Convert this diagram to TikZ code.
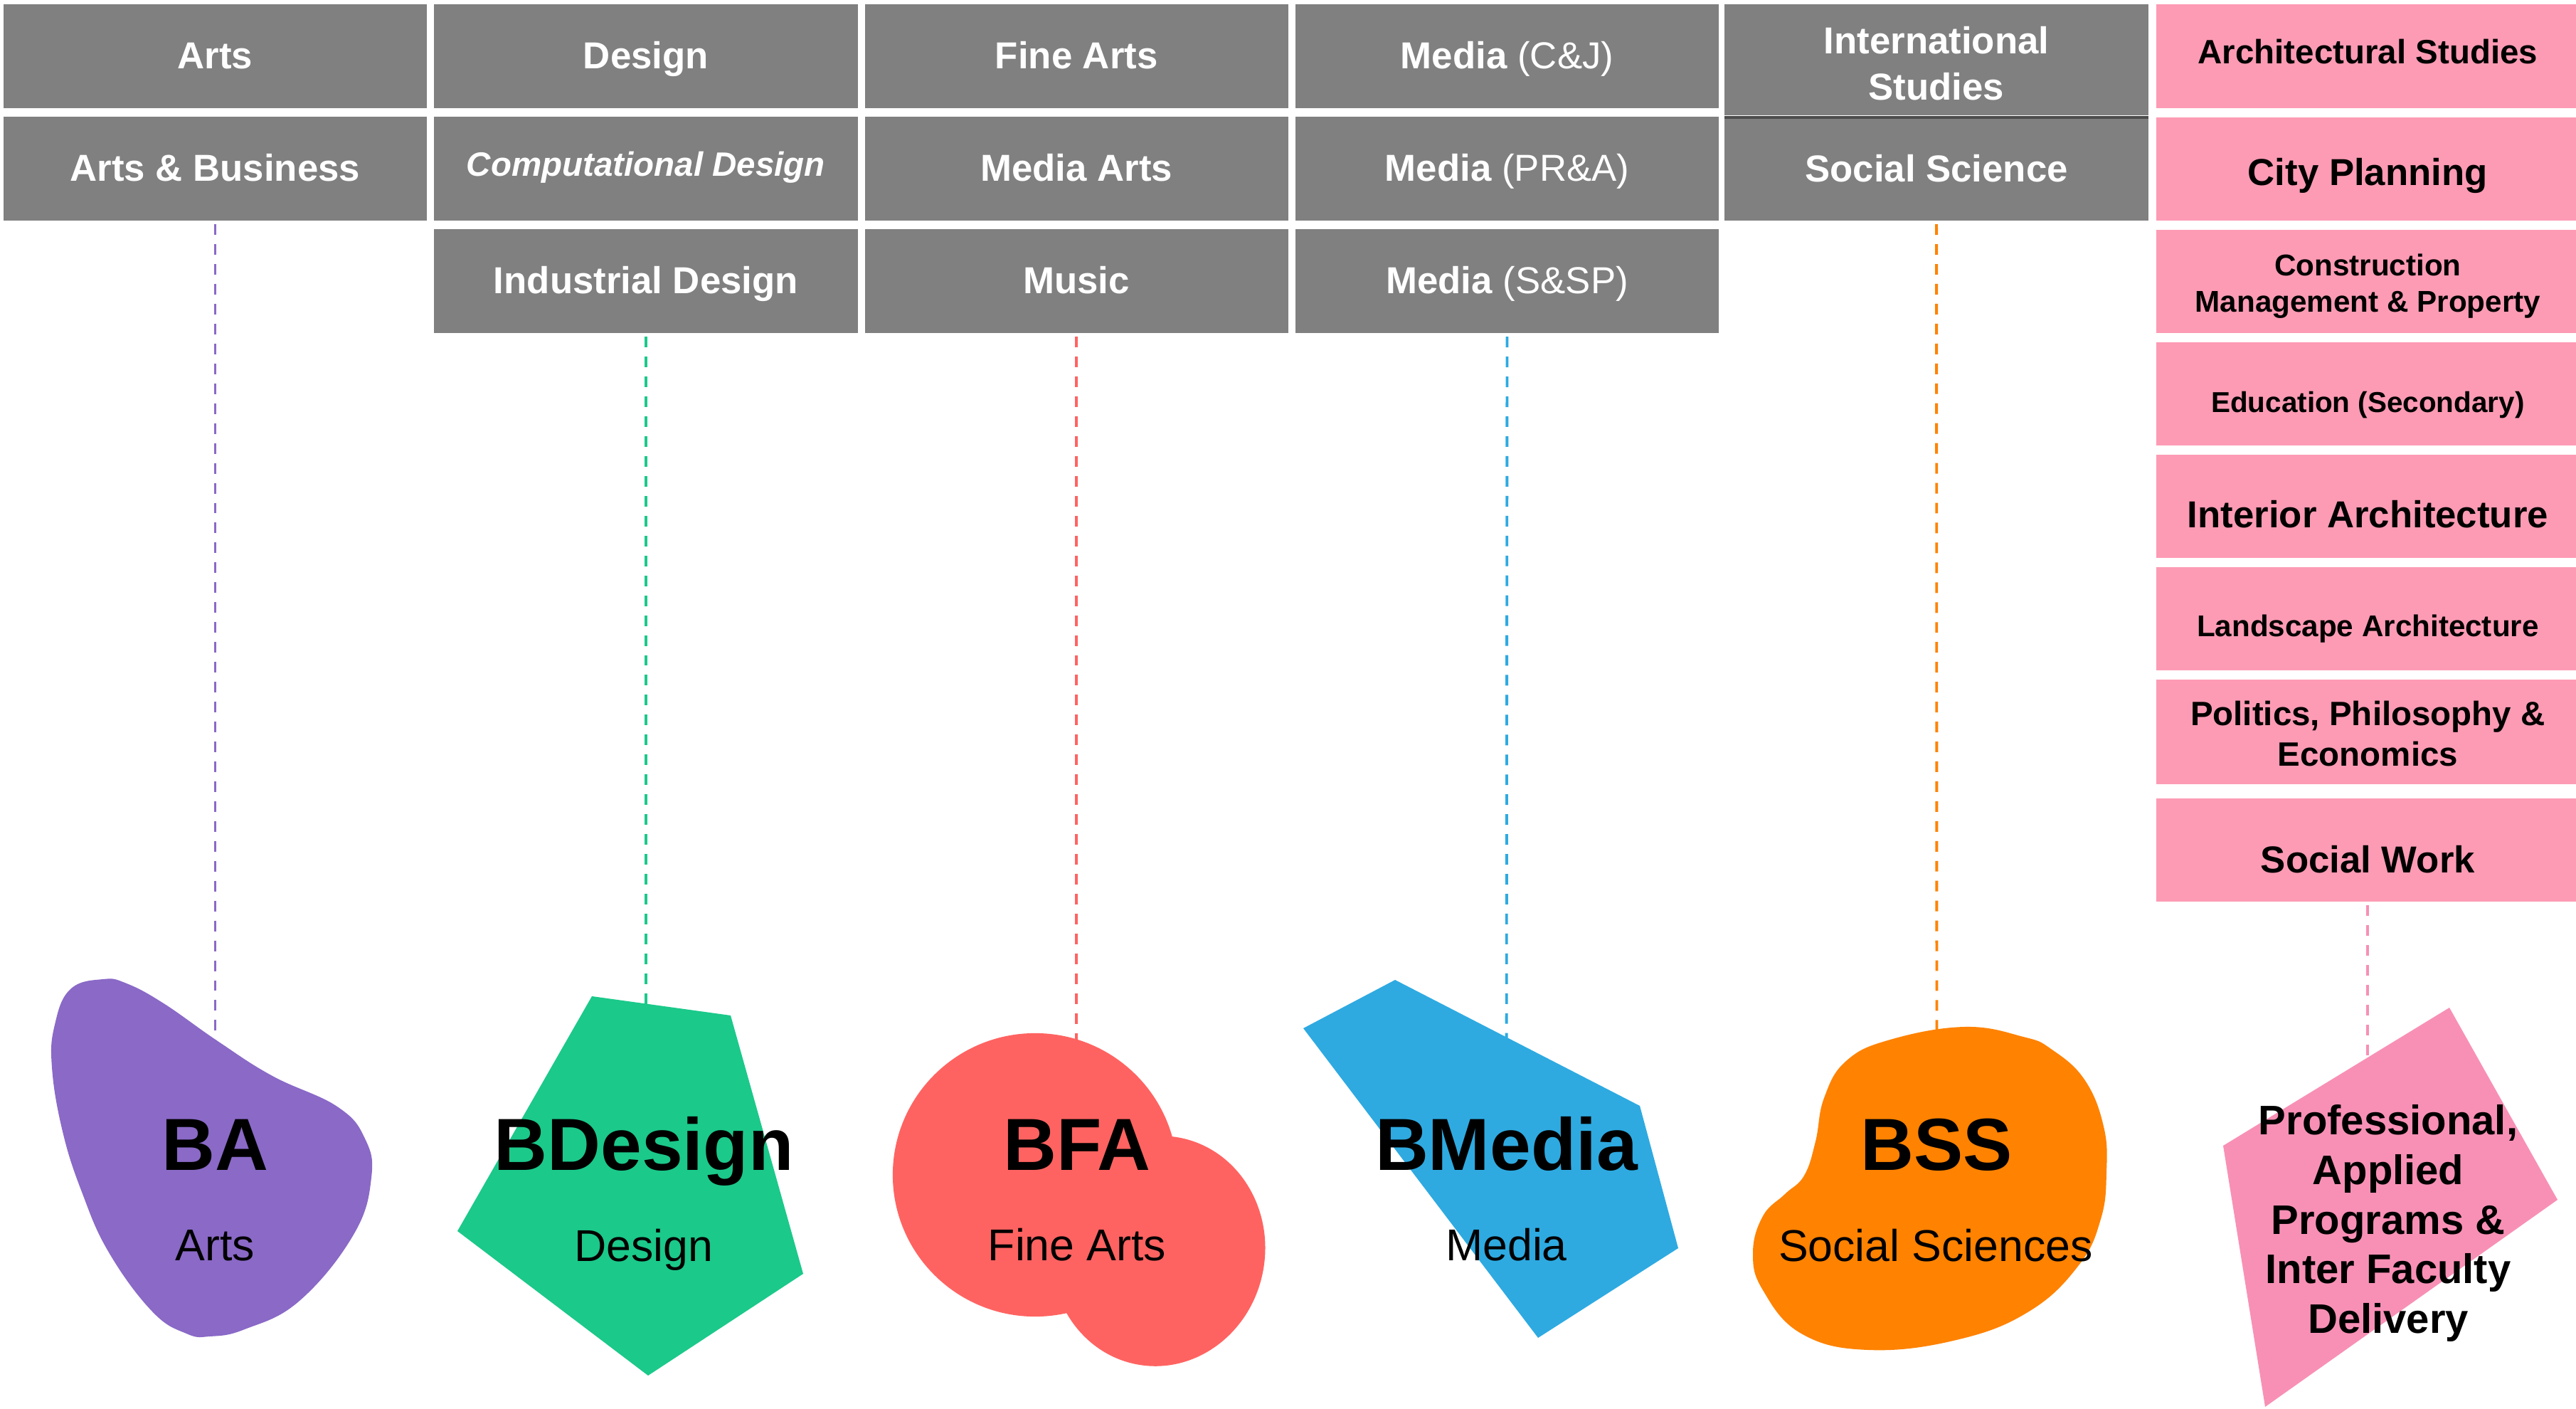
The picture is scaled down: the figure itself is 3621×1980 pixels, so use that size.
\documentclass[tikz,border=0pt]{standalone}
\usepackage{fontspec}
\setmainfont{Liberation Sans}
\usetikzlibrary{positioning,backgrounds}

\definecolor{boxgrey}{HTML}{808080}
\definecolor{boxpink}{HTML}{FD9BB4}
\definecolor{baviolet}{HTML}{8A69C7}
\definecolor{bdgreen}{HTML}{1BC98A}
\definecolor{bfared}{HTML}{FF6361}
\definecolor{bmblue}{HTML}{2EAAE1}
\definecolor{bssorange}{HTML}{FF8200}
\definecolor{pppink}{HTML}{F890B5}

\begin{document}
\begin{tikzpicture}[
        x=0.01cm, y=-0.01cm,
        node distance=0.12cm,
        greybox/.style={fill=boxgrey, text=white, minimum width=5.95cm, minimum height=1.46cm,
            inner sep=0pt, outer sep=0pt, align=center, text height=9.9pt, text depth=0pt,
            font=\fontsize{15}{18.4}\selectfont\bfseries},
        pinkbox/.style={greybox, fill=boxpink, text=black, minimum height=1.45cm},
        degree/.style={anchor=base, inner sep=0pt, font=\fontsize{29.5}{34}\selectfont\bfseries},
        field/.style={anchor=base, inner sep=0pt, font=\fontsize{17.8}{21}\selectfont},
        link/.style={line width=1.1pt, dash pattern=on 4.25pt off 3.7pt, shorten <=0.05cm}
        ]
        \useasboundingbox (0,0) rectangle (3621,1980);

        % programmes, one column per degree
        \node (arts) [greybox] at (302.5,79) {Arts};
        \node (artsbus) [greybox, below=of arts] {Arts \& Business};

        \node (design) [greybox, right=0.1cm of arts] {Design};
        \node (compdes) [greybox, below=of design, text height=5.7pt,
            font=\fontsize{13.5}{16}\selectfont\bfseries\itshape] {Computational Design};
        \node (inddes) [greybox, below=of compdes] {Industrial Design};

        \node (finearts) [greybox, right=0.1cm of design] {Fine Arts};
        \node (mediaarts) [greybox, below=of finearts] {Media Arts};
        \node (music) [greybox, below=of mediaarts] {Music};

        \node (mediacj) [greybox, right=0.1cm of finearts] {Media \textmd{(C\&J)}};
        \node (mediapra) [greybox, below=of mediacj] {Media \textmd{(PR\&A)}};
        \node (mediass) [greybox, below=of mediapra] {Media \textmd{(S\&SP)}};

        \node (intl) [greybox, minimum height=1.56cm, text height=32pt, text depth=0pt] at (2722,84) {International\\Studies};
        \node (socsci) [greybox, below=0.05cm of intl, minimum height=1.43cm] {Social Science};
        \draw[line width=0.04cm, black!70] ([yshift=-0.025cm]intl.south west) -- ([yshift=-0.025cm]intl.south east);

        % professional programmes
        \node (archst) [pinkbox, right=0.11cm of arts.east -| intl.east, anchor=west, text height=5.97pt,
            font=\fontsize{13.5}{16}\selectfont\bfseries] {Architectural Studies};
        \node (city) [pinkbox, below=0.13cm of archst, text height=13.6pt] {City Planning};
        \node (constr) [pinkbox, below=0.13cm of city, text height=27.2pt, text depth=2.5pt,
            font=\fontsize{12}{14.4}\selectfont\bfseries] {Construction\\Management \& Property};
        \node (educ) [pinkbox, below=0.13cm of constr, text height=15pt,
            font=\fontsize{11.5}{14}\selectfont\bfseries] {Education (Secondary)};
        \node (interior) [pinkbox, below=0.13cm of educ, text height=17pt] {Interior Architecture};
        \node (landsc) [pinkbox, below=0.13cm of interior, text height=14.3pt,
            font=\fontsize{12}{14.4}\selectfont\bfseries] {Landscape Architecture};
        \node (ppe) [pinkbox, below=0.13cm of landsc, minimum height=1.47cm, text height=27.4pt, text depth=0pt,
            font=\fontsize{13.5}{16.4}\selectfont\bfseries] {Politics, Philosophy \&\\Economics};
        \node (social) [pinkbox, below=0.2cm of ppe, text height=17.9pt] {Social Work};

        % degree shapes
        \fill[baviolet] plot [smooth cycle, tension=0.7] coordinates {(145,1376) (99,1390) (77,1440) (73,1500)
            (88,1590) (115,1675) (153,1760) (214,1843) (262,1874) (295,1878) (344,1868) (421,1828)
            (497,1735) (522,1655) (513,1600) (474,1555) (383,1512) (306,1463) (230,1410) (178,1382)};
        \fill[bdgreen] (832,1400) -- (1027,1427) -- (1129,1790) -- (911,1933) -- (643,1730) -- cycle;
        \fill[bfared] (1455,1651) ellipse [x radius=2cm, y radius=1.99cm];
        \fill[bfared, shift={(1628,1758)}, rotate=-10] (0,0) ellipse [x radius=1.5cm, y radius=1.62cm];
        \fill[bmblue] (1961,1377) -- (2305,1554) -- (2359,1754) -- (2162,1880) -- (1832,1445) -- cycle;
        \fill[bssorange] plot [smooth cycle, tension=0.7] coordinates {(2762,1443) (2844,1457) (2883,1474)
            (2930,1517) (2957,1583) (2961,1648) (2953,1713) (2922,1778) (2852,1843) (2750,1883)
            (2626,1897) (2532,1874) (2478,1813) (2464,1761) (2478,1709) (2509,1678) (2536,1652)
            (2552,1604) (2564,1543) (2595,1491) (2657,1461)};
        \fill[pppink] (3443,1416) -- (3595,1686) -- (3184,1977) -- (3125,1610) -- cycle;

        % degree names
        \node (ba) [degree] at (302.5,1644) {BA};
        \node (baname) [field] at (302.5,1771) {Arts};
        \node (bdesign) [degree] at (905,1644) {BDesign};
        \node (bdname) [field] at (905,1772) {Design};
        \node (bfa) [degree] at (1514,1644) {BFA};
        \node (bfaname) [field] at (1514,1771) {Fine Arts};
        \node (bmedia) [degree] at (2117.5,1644) {BMedia};
        \node (bmname) [field] at (2117.5,1771) {Media};
        \node (bss) [degree] at (2722.5,1644) {BSS};
        \node (bssname) [field] at (2721,1772) {Social Sciences};
        \node (pro) [align=center, font=\fontsize{16.5}{19.9}\selectfont\bfseries] at (3357,1719)
            {Professional,\\Applied\\Programs \&\\Inter Faculty\\Delivery};

        % dashed links from the programmes down to each degree
        \begin{scope}[on background layer]
            \path[link]
            (artsbus)   edge [baviolet]     (artsbus |- ba.north)
            (inddes)    edge [bdgreen]      (inddes |- bdesign.north)
            (music)     edge [bfared]       (music |- bfa.north)
            (mediass)   edge [bmblue]       (bmedia)
            (socsci)    edge [bssorange]    (bss)
            (social)    edge [pppink]       (social |- pro.north)
            ;
        \end{scope}
    \end{tikzpicture}
\end{document}
